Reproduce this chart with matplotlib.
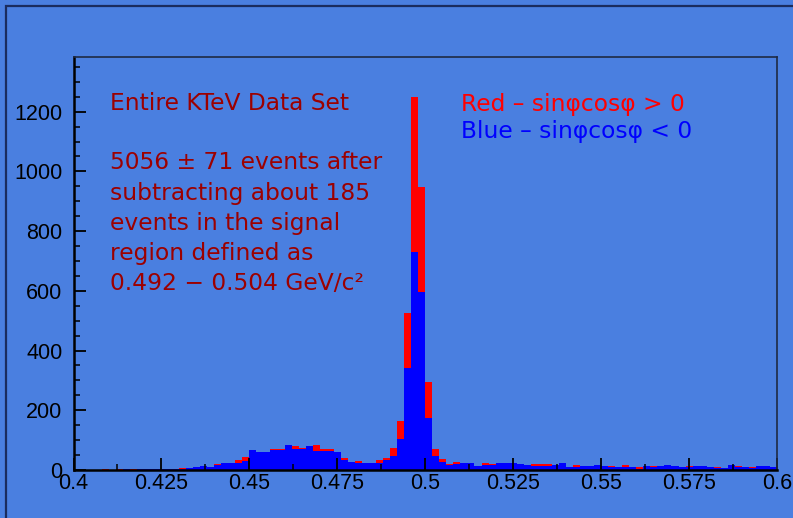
import numpy as np
import matplotlib
matplotlib.use("Agg")
import matplotlib.pyplot as plt
from matplotlib.patches import Rectangle
from matplotlib.ticker import MultipleLocator, FuncFormatter

# pi+ pi- invariant mass histogram, 100 bins of 2 MeV between 0.4 and 0.6 GeV/c^2
bin_lo, bin_hi, n_bins = 0.4, 0.6, 100

# events with sin(phi)cos(phi) < 0
blue_counts = [
    0, 0, 1, 0, 1, 1, 1, 2, 1, 2,
    2, 3, 3, 3, 4, 5, 6, 10, 13, 10,
    16, 23, 22, 25, 31, 67, 59, 61, 68, 67,
    84, 70, 69, 82, 63, 65, 64, 60, 35, 26,
    25, 22, 22, 23, 33, 47, 104, 343, 730, 597,
    173, 48, 28, 18, 21, 22, 22, 15, 16, 18,
    22, 23, 22, 19, 17, 13, 14, 12, 18, 25,
    11, 11, 14, 13, 17, 12, 11, 11, 11, 11,
    5, 12, 9, 12, 18, 12, 9, 11, 14, 13,
    11, 7, 8, 18, 11, 9, 8, 14, 13, 11,
]

# events with sin(phi)cos(phi) > 0
red_counts = [
    0, 0, 0, 1, 3, 1, 2, 1, 2, 2,
    3, 3, 3, 2, 3, 8, 7, 9, 12, 9,
    20, 22, 21, 35, 45, 65, 58, 60, 70, 69,
    82, 80, 75, 80, 83, 69, 69, 59, 39, 25,
    30, 21, 23, 33, 40, 73, 164, 525, 1248, 947,
    295, 70, 36, 19, 27, 21, 21, 14, 23, 20,
    23, 22, 21, 18, 16, 20, 21, 19, 17, 24,
    10, 17, 13, 14, 16, 11, 13, 10, 16, 10,
    9, 11, 14, 13, 17, 11, 8, 15, 13, 14,
    10, 9, 7, 17, 13, 8, 10, 13, 12, 10,
]

info_lines = [
    "5056 \u00b1 71 events after",
    "subtracting about 185",
    "events in the signal",
    "region defined as",
    "0.492 \u2212 0.504 GeV/c\u00b2",
]

W, H = 793, 518
bg = "#4a7fe0"

fig = plt.figure(figsize=(W / 100, H / 100), dpi=100, facecolor=bg)

def fx(px):
    return px / W

def fy(py):
    return 1 - py / H

# canvas border
fig.patches.append(Rectangle((fx(6), fy(600)), 2.0, fy(6) - fy(600),
                             transform=fig.transFigure, fill=False,
                             edgecolor="#1b2c5e", lw=1.6))

ax = fig.add_axes([fx(73.5), fy(470), fx(777) - fx(73.5), fy(57) - fy(470)])
ax.set_facecolor(bg)

edges = np.linspace(bin_lo, bin_hi, n_bins + 1)
ax.stairs(red_counts, edges, fill=True, color="#ff0000", lw=0)
ax.stairs(blue_counts, edges, fill=True, color="#0000ff", lw=0)

ax.set_xlim(bin_lo, bin_hi)
ax.set_ylim(0, 1383)

ax.xaxis.set_major_locator(MultipleLocator(0.025))
ax.xaxis.set_minor_locator(MultipleLocator(0.0125))
ax.yaxis.set_major_locator(MultipleLocator(200))
ax.yaxis.set_minor_locator(MultipleLocator(50))
ax.xaxis.set_major_formatter(FuncFormatter(lambda v, p: f"{v:.3f}".rstrip("0").rstrip(".")))
ax.yaxis.set_major_formatter(FuncFormatter(lambda v, p: f"{v:.0f}"))

tick_font = "Liberation Sans"
ax.tick_params(axis="both", which="major", direction="in", length=8.5, width=1.3,
               color="black", labelsize=15.5, labelcolor="black")
ax.tick_params(axis="both", which="minor", direction="in", length=4.5, width=1.1,
               color="black")
ax.tick_params(axis="x", which="both", top=False, pad=2.5)
ax.tick_params(axis="y", which="both", right=False, pad=8)
for lab in ax.get_xticklabels() + ax.get_yticklabels():
    lab.set_fontfamily(tick_font)

for side in ["left", "bottom"]:
    ax.spines[side].set_color("black")
    ax.spines[side].set_linewidth(1.8)
for side in ["top", "right"]:
    ax.spines[side].set_color("#1e2a44")
    ax.spines[side].set_linewidth(1.2)

# annotations
dark_red = "#9c0000"
txt_size = 16.8
fig.text(fx(110), fy(104), "Entire KTeV Data Set", color=dark_red,
         fontsize=txt_size, va="center", ha="left")
for i, line in enumerate(info_lines):
    fig.text(fx(110), fy(163 + 30.2 * i), line, color=dark_red,
             fontsize=txt_size, va="center", ha="left")

fig.text(fx(461), fy(104), "Red \u2013 sin\u03c6cos\u03c6 > 0", color="#ff0000",
         fontsize=txt_size, va="center", ha="left")
fig.text(fx(461), fy(132), "Blue \u2013 sin\u03c6cos\u03c6 < 0", color="#0000ff",
         fontsize=txt_size, va="center", ha="left")

fig.savefig("out.png", dpi=100, facecolor=bg)
